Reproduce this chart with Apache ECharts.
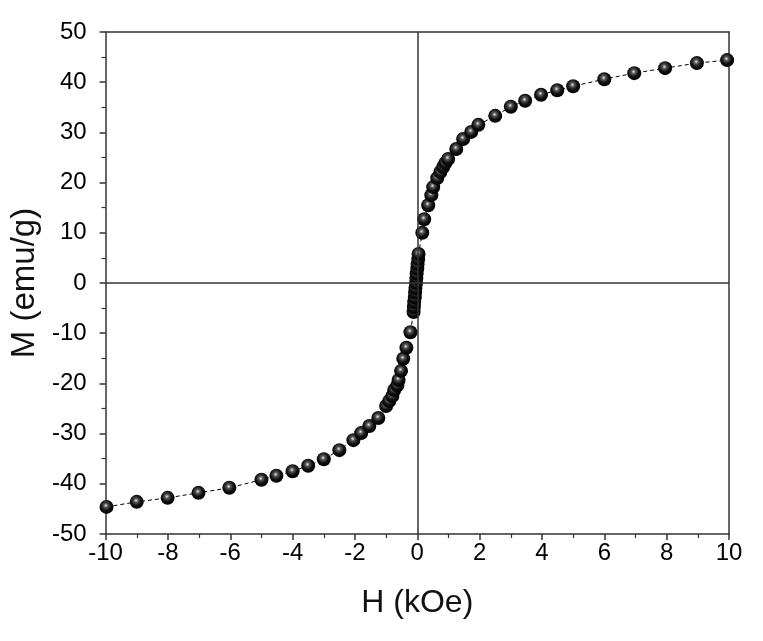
<!DOCTYPE html>
<html><head><meta charset="utf-8">
<script src="https://cdn.jsdelivr.net/npm/echarts@6/dist/echarts.min.js"></script>
<style>html,body{margin:0;padding:0;background:#fff}#c{width:763px;height:641px}</style>
</head><body><div id="c"></div>
<script>
// H (kOe) values, ordered along the curve
const H = [-9.97,-9.0,-8.01,-7.02,-6.03,-5.0,-4.52,-4.0,-3.5,-3.0,-2.5,-2.05,-1.8,-1.54,-1.25,-1.0,-0.9,-0.8,-0.74,-0.64,-0.6,-0.52,-0.45,-0.35,-0.22,
  -0.12,-0.11,-0.10,-0.08,-0.07,-0.06,-0.04,-0.03,-0.02,0.0,0.01,0.03,0.04,
  0.16,0.22,0.35,0.45,0.51,0.64,0.74,0.83,0.9,0.99,1.25,1.47,1.73,1.96,2.5,3.0,3.46,3.97,4.49,5.0,6.0,6.96,7.95,8.97,9.94];
// M (emu/g) values
const M = [-44.6,-43.6,-42.8,-41.8,-40.8,-39.2,-38.4,-37.5,-36.4,-35.1,-33.3,-31.3,-29.9,-28.5,-26.9,-24.5,-23.5,-22.5,-21.3,-20.4,-19.3,-17.5,-15.1,-12.9,-9.8,
  -5.8,-4.8,-3.8,-2.9,-1.9,-1.0,0.0,1.0,1.9,2.9,3.8,4.8,5.8,
  10.0,12.7,15.5,17.5,19.1,20.9,22.1,23.1,23.9,24.7,26.7,28.7,30.1,31.5,33.3,35.1,36.3,37.5,38.4,39.2,40.6,41.8,42.8,43.8,44.4];
const xTicks = [-10,-8,-6,-4,-2,0,2,4,6,8,10];
const yTicks = [-50,-40,-30,-20,-10,0,10,20,30,40,50];

const chart = echarts.init(document.getElementById('c'));
const axColor = '#333';
const font = 'Arial, "Liberation Sans", sans-serif';
chart.setOption({
  animation: false,
  grid: {left: 105, right: 34, top: 32, bottom: 107},
  xAxis: [{
    type: 'value', min: xTicks[0], max: xTicks[xTicks.length-1], interval: 2,
    name: 'H (kOe)', nameLocation: 'middle', nameGap: 53,
    nameTextStyle: {fontSize: 32, color: '#111', fontFamily: font},
    axisLine: {onZero: false, lineStyle: {color: axColor, width: 1.5}},
    axisTick: {length: 6, lineStyle: {color: axColor, width: 1.5}},
    minorTick: {show: true, splitNumber: 2, length: 4, lineStyle: {color: axColor, width: 1.2}},
    axisLabel: {fontSize: 24, color: '#000', margin: 7, fontFamily: font},
    splitLine: {show: false}
  }, {
    type: 'value', position: 'top', min: -10, max: 10,
    axisLine: {onZero: false, lineStyle: {color: axColor, width: 1.5}},
    axisTick: {show: false}, axisLabel: {show: false}, splitLine: {show: false}
  }],
  yAxis: [{
    type: 'value', min: yTicks[0], max: yTicks[yTicks.length-1], interval: 10,
    name: 'M (emu/g)', nameLocation: 'middle', nameGap: 56, nameRotate: 90,
    nameTextStyle: {fontSize: 33, color: '#111', fontFamily: font},
    axisLine: {show: true, onZero: false, lineStyle: {color: axColor, width: 1.5}},
    axisTick: {show: true, length: 6, lineStyle: {color: axColor, width: 1.5}},
    minorTick: {show: true, splitNumber: 2, length: 4, lineStyle: {color: axColor, width: 1.2}},
    axisLabel: {fontSize: 24, color: '#000', margin: 19, fontFamily: font},
    splitLine: {show: false}
  }, {
    type: 'value', position: 'right', min: -50, max: 50,
    axisLine: {show: true, onZero: false, lineStyle: {color: axColor, width: 1.5}},
    axisTick: {show: false}, axisLabel: {show: false}, splitLine: {show: false}
  }],
  series: [{
    type: 'line',
    data: H.map((h, i) => [h, M[i]]),
    symbol: 'circle', symbolSize: 14,
    lineStyle: {color: '#000', width: 1, type: [4, 3]},
    itemStyle: {
      color: {type: 'radial', x: 0.45, y: 0.4, r: 0.6, colorStops: [
        {offset: 0, color: '#e8e8e8'}, {offset: 0.25, color: '#555'},
        {offset: 0.6, color: '#111'}, {offset: 1, color: '#000'}]},
      borderWidth: 0
    },
    markLine: {
      silent: true, symbol: 'none', label: {show: false},
      lineStyle: {color: axColor, width: 1.5, type: 'solid'},
      data: [{xAxis: 0}, {yAxis: 0}]
    },
    z: 3
  }]
});
</script></body></html>
